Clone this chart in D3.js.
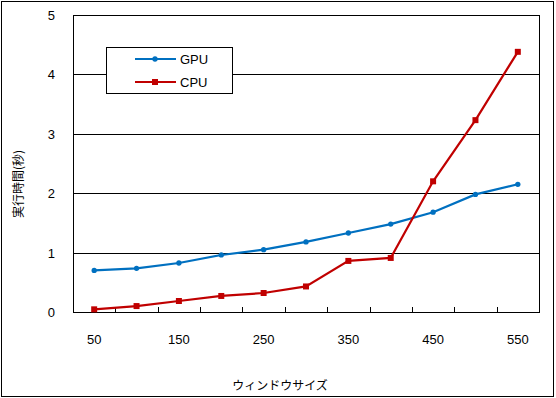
<!DOCTYPE html>
<html>
<head>
<meta charset="utf-8">
<script src="https://cdn.jsdelivr.net/npm/d3@7"></script>
<style>
  body { margin: 0; background: #fff; }
  text { font-family: "Liberation Sans", Arial, sans-serif; font-size: 13px; fill: #000; }
</style>
</head>
<body>
<div id="chart"></div>
<script>
// data
const sizes = [50, 100, 150, 200, 250, 300, 350, 400, 450, 500, 550];
const gpuTimes = [0.70, 0.735, 0.825, 0.96, 1.05, 1.18, 1.33, 1.48, 1.68, 1.98, 2.15];
const cpuTimes = [0.045, 0.10, 0.185, 0.27, 0.32, 0.43, 0.86, 0.91, 2.20, 3.23, 4.38];
const yTicks = [0, 1, 2, 3, 4, 5];
const xLabels = [50, 150, 250, 350, 450, 550];

const W = 556, H = 398;
const margin = {left: 73, right: 17, top: 15, bottom: 86};

const svg = d3.select("#chart").append("svg")
  .attr("width", W)
  .attr("height", H);

// outer frame
svg.append("rect")
  .attr("x", 1.5).attr("y", 1.5)
  .attr("width", 552).attr("height", 395)
  .attr("fill", "#fff").attr("stroke", "#000");

const x = d3.scaleBand()
  .domain(sizes)
  .range([margin.left, W - margin.right]);

const y = d3.scaleLinear()
  .domain([0, 5])
  .range([H - margin.bottom, margin.top]);

// grid lines
svg.append("g")
  .selectAll("line")
  .data(yTicks)
  .join("line")
  .attr("x1", margin.left).attr("x2", W - margin.right)
  .attr("y1", d => Math.round(y(d)) + 0.5)
  .attr("y2", d => Math.round(y(d)) + 0.5)
  .attr("stroke", "#000");

// plot border
svg.append("rect")
  .attr("x", margin.left + 0.5).attr("y", margin.top + 0.5)
  .attr("width", W - margin.left - margin.right)
  .attr("height", H - margin.top - margin.bottom)
  .attr("fill", "none").attr("stroke", "#000");

// x tick marks (inward) at category boundaries
const bounds = sizes.slice(1).map(d => x(d));
svg.append("g")
  .selectAll("line")
  .data(bounds)
  .join("line")
  .attr("x1", d => Math.round(d) + 0.5)
  .attr("x2", d => Math.round(d) + 0.5)
  .attr("y1", y(0))
  .attr("y2", y(0) - 5)
  .attr("stroke", "#000");

// y tick labels
svg.append("g")
  .selectAll("text")
  .data(yTicks)
  .join("text")
  .attr("x", 55)
  .attr("y", d => y(d) + 5)
  .attr("text-anchor", "end")
  .text(d => d);

// x tick labels
svg.append("g")
  .selectAll("text")
  .data(xLabels)
  .join("text")
  .attr("x", d => x(d) + x.bandwidth() / 2)
  .attr("y", 344)
  .attr("text-anchor", "middle")
  .text(d => d);

// axis titles
svg.append("text")
  .attr("x", 280).attr("y", 390)
  .attr("text-anchor", "middle")
  .style("font-family", "'Noto Sans CJK JP', sans-serif")
  .style("font-size", "12px")
  .text("ウィンドウサイズ");

svg.append("text")
  .attr("transform", "translate(23,184) rotate(-90)")
  .attr("text-anchor", "middle")
  .style("font-family", "'Noto Sans CJK JP', sans-serif")
  .style("font-size", "12px")
  .text("実行時間(秒)");

// lines
const line = d3.line()
  .x((d, i) => x(sizes[i]) + x.bandwidth() / 2)
  .y(d => y(d));

const series = [
  {name: "GPU", values: gpuTimes, color: "#0070C0", marker: "diamond"},
  {name: "CPU", values: cpuTimes, color: "#C00000", marker: "square"}
];

function markerPath(s) {
  return d3.symbol()
    .type(s.marker === "square" ? d3.symbolSquare : d3.symbolCircle)
    .size(s.marker === "square" ? 36 : 22)();
}

series.forEach(s => {
  svg.append("path")
    .attr("d", line(s.values))
    .attr("fill", "none")
    .attr("stroke", s.color)
    .attr("stroke-width", 2.2);

  svg.append("g")
    .selectAll("path")
    .data(s.values)
    .join("path")
    .attr("transform", (d, i) => `translate(${x(sizes[i]) + x.bandwidth() / 2},${y(d)})`)
    .attr("d", markerPath(s))
    .attr("fill", s.color);
});

// legend
const legend = svg.append("g");
legend.append("rect")
  .attr("x", 106.5).attr("y", 47.5)
  .attr("width", 126).attr("height", 46)
  .attr("fill", "#fff").attr("stroke", "#000");

series.forEach((s, i) => {
  const ly = 59 + i * 23;
  legend.append("line")
    .attr("x1", 135).attr("x2", 176)
    .attr("y1", ly).attr("y2", ly)
    .attr("stroke", s.color).attr("stroke-width", 2.2);
  legend.append("path")
    .attr("transform", `translate(155,${ly})`)
    .attr("d", markerPath(s))
    .attr("fill", s.color);
  legend.append("text")
    .attr("x", 180).attr("y", ly + 5)
    .text(s.name);
});
</script>
</body>
</html>
